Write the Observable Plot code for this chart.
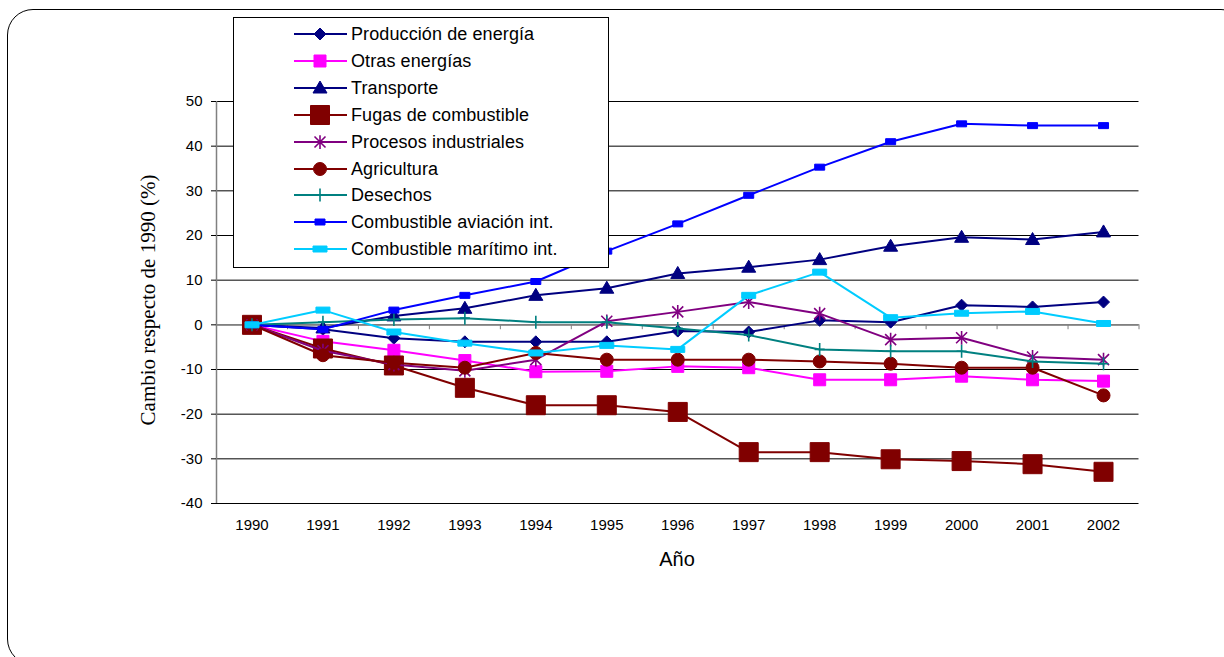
<!DOCTYPE html>
<html><head><meta charset="utf-8">
<script src="https://cdn.jsdelivr.net/npm/d3@7"></script>
<script src="https://cdn.jsdelivr.net/npm/@observablehq/plot@0.6"></script>
<style>
html,body{margin:0;padding:0;background:#fff;overflow:hidden;width:1224px;height:657px;position:relative;}
#frame{position:absolute;left:7px;top:9px;width:1240px;height:656px;border:1.5px solid #000;border-radius:26px;box-sizing:border-box;}
#chart{position:absolute;left:0;top:0;}
#legend{position:absolute;left:233px;top:17px;width:376px;height:251px;border:1px solid #000;background:#fff;box-sizing:border-box;font-family:"Liberation Sans",Arial,sans-serif;}
.item{position:absolute;left:0;height:20px;width:370px;}
.item svg{position:absolute;left:58px;top:0;}
.item span{position:absolute;left:117px;top:0;line-height:20px;font-size:18px;letter-spacing:0.1px;white-space:nowrap;color:#000;}
#ytitle{position:absolute;left:148px;top:300px;transform:translate(-50%,-50%) rotate(-90deg);font-family:"Liberation Serif","Times New Roman",serif;font-size:21px;white-space:nowrap;}
#xtitle{position:absolute;left:677px;top:549px;transform:translateX(-50%);font-family:"Liberation Sans",Arial,sans-serif;font-size:20px;line-height:20px;white-space:nowrap;}
</style></head>
<body>
<div id="frame"></div>
<div id="chart"></div>
<div id="ytitle">Cambio respecto de 1990 (%)</div>
<div id="xtitle">Año</div>
<div id="legend"></div>
<script>
const years = [1990,1991,1992,1993,1994,1995,1996,1997,1998,1999,2000,2001,2002];
const yTicks = [-40,-30,-20,-10,0,10,20,30,40,50];
const seriesNames = ["Producción de energía","Otras energías","Transporte","Fugas de combustible","Procesos industriales","Agricultura","Desechos","Combustible aviación int.","Combustible marítimo int."];
const produccion  = [0,-1.0,-3.0,-3.8,-3.8,-3.8,-1.4,-1.6,1.0,0.6,4.4,4.0,5.1];
const otras       = [0,-3.7,-5.7,-8.0,-10.5,-10.4,-9.3,-9.6,-12.3,-12.3,-11.5,-12.3,-12.6];
const transporte  = [0,-0.7,2.0,3.7,6.6,8.2,11.5,12.9,14.6,17.6,19.6,19.1,20.8];
const fugas       = [0,-5.3,-9.1,-14.1,-18.0,-18.0,-19.5,-28.5,-28.5,-30.1,-30.5,-31.2,-32.9];
const procesos    = [0,-5.8,-8.9,-10.3,-7.8,0.8,2.9,5.1,2.5,-3.3,-2.9,-7.2,-7.8];
const agricultura = [0,-6.8,-8.5,-9.6,-6.3,-7.8,-7.8,-7.8,-8.2,-8.7,-9.6,-9.6,-15.8];
const desechos    = [0,0.6,1.2,1.5,0.6,0.6,-0.8,-2.3,-5.5,-5.9,-5.9,-8.2,-8.7];
const aviacion    = [0,-1.0,3.3,6.6,9.7,16.5,22.6,29.0,35.3,41.0,45.0,44.6,44.6];
const maritimo    = [0,3.3,-1.6,-4.1,-6.3,-4.6,-5.5,6.6,11.8,1.6,2.6,3.0,0.3];

const values = [produccion,otras,transporte,fugas,procesos,agricultura,desechos,aviacion,maritimo];
const colors = ["#000080","#FF00FF","#000080","#800000","#800080","#800000","#008080","#0000FF","#00CCFF"];

// marker shapes
const poly = pts => ({draw(c){c.moveTo(pts[0][0],pts[0][1]);for(let i=1;i<pts.length;i++)c.lineTo(pts[i][0],pts[i][1]);c.closePath();}});
const rectSym = (w,h) => poly([[-w/2,-h/2],[w/2,-h/2],[w/2,h/2],[-w/2,h/2]]);
const circleSym = r => ({draw(c){c.moveTo(r,0);c.arc(0,0,r,0,2*Math.PI);c.closePath();}});
const asteriskSym = s => ({draw(c){c.moveTo(-s,-s);c.lineTo(s,s);c.moveTo(-s,s);c.lineTo(s,-s);c.moveTo(0,-s*1.25);c.lineTo(0,s*1.25);}});
const plusSym = (w,h) => ({draw(c){c.moveTo(-w,0);c.lineTo(w,0);c.moveTo(0,-h);c.lineTo(0,h);}});
const markers = [
  {sym: poly([[0,-6],[6,0],[0,6],[-6,0]]), filled:true},
  {sym: rectSym(12,12), filled:true},
  {sym: poly([[0,-7],[7,5],[-7,5]]), filled:true},
  {sym: rectSym(19,19), filled:true},
  {sym: asteriskSym(5.5), filled:false},
  {sym: circleSym(6.5), filled:true},
  {sym: plusSym(5,6.5), filled:false},
  {sym: rectSym(10,6), filled:true},
  {sym: rectSym(14,6), filled:true}
];

const marks = [
  Plot.ruleY(yTicks, {stroke:"#000", strokeWidth:1}),
  Plot.ruleX([years[0]-0.5], {y1:-40, y2:50, stroke:"#808080", strokeWidth:1.5}),
  Plot.ruleY([0], {stroke:"#808080", strokeWidth:1.5}),
  Plot.ruleX(years.map(y=>y+0.5), {y1:0, y2:-1.1, stroke:"#808080", strokeWidth:1}),
  Plot.axisY({ticks: yTicks, tickSize:5, tickPadding:9, label:null, fontSize:15, tickFormat: d=>String(d)}),
  Plot.axisX({ticks: years, tickSize:0, tickPadding:16, label:null, fontSize:15, tickFormat: d=>String(d)})
];
seriesNames.forEach((name,i)=>{
  const rows = years.map((yr,j)=>({year:yr, value:values[i][j], series:name}));
  marks.push(Plot.line(rows, {x:"year", y:"value", stroke:colors[i], strokeWidth:2}));
  const m = markers[i];
  marks.push(Plot.dot(rows, {x:"year", y:"value", symbol:m.sym,
    fill: m.filled ? colors[i] : "none", stroke: colors[i], strokeWidth: m.filled ? 1 : 1.6}));
});

const chart = Plot.plot({
  width:1224, height:657,
  marginLeft:216, marginRight:85.5, marginTop:101, marginBottom:154,
  x:{domain:[1989.5,2002.5]},
  y:{domain:[-40,50]},
  style:{fontFamily:'"Liberation Sans", Arial, sans-serif', fontSize:"15px", background:"transparent", overflow:"visible"},
  marks
});
document.getElementById("chart").appendChild(chart);

// legend
const legend = document.getElementById("legend");
seriesNames.forEach((name,i)=>{
  const item = document.createElement("div");
  item.className = "item";
  item.style.top = (6 + i*26.9) + "px";
  const p = d3.path(); markers[i].sym.draw(p);
  item.innerHTML = `<svg width="60" height="20" viewBox="0 0 60 20">
    <line x1="2" y1="10" x2="55" y2="10" stroke="${colors[i]}" stroke-width="2"/>
    <path transform="translate(28,10)" d="${p.toString()}" fill="${markers[i].filled?colors[i]:'none'}" stroke="${colors[i]}" stroke-width="${markers[i].filled?1:1.6}"/>
  </svg><span>${name}</span>`;
  legend.appendChild(item);
});
</script>
</body></html>
